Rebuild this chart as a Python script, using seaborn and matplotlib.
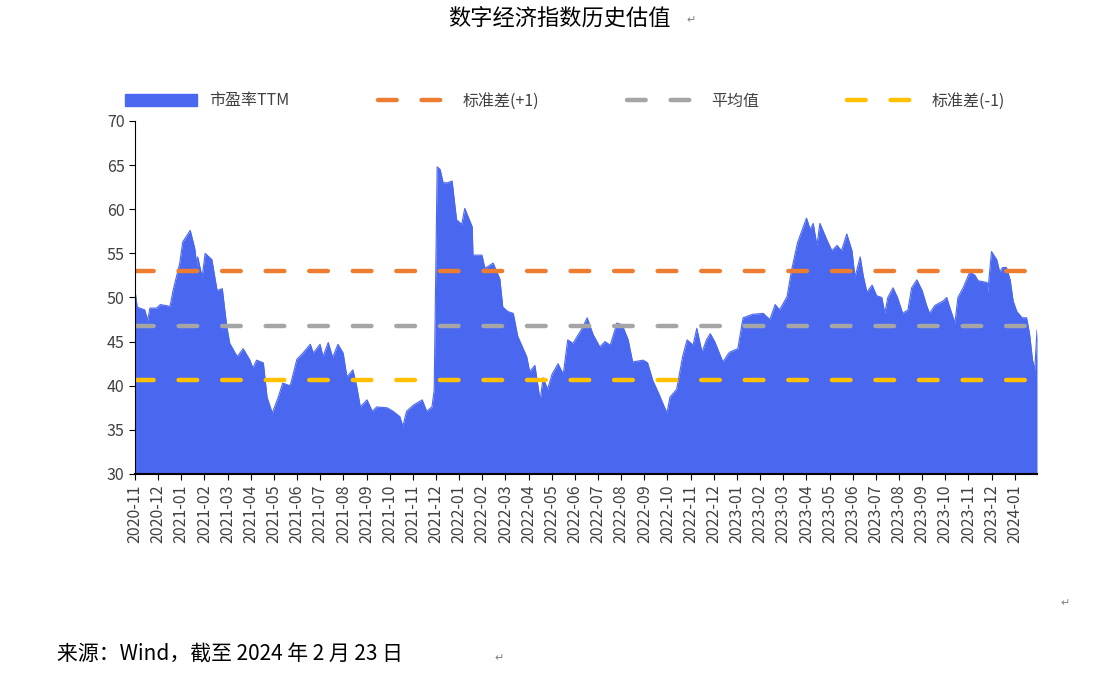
import numpy as np
import pandas as pd
import matplotlib
matplotlib.use("Agg")
import matplotlib.pyplot as plt
import seaborn as sns
from matplotlib.patches import Patch
from matplotlib.lines import Line2D

plt.rcParams["font.family"] = ["Noto Sans CJK SC", "DejaVu Sans"]

day_offset = [0,3,13,17,20,29,34,47,51,60,64,74,80,83,84,90,94,103,110,117,123,127,137,145,154,158,163,172,177,184,192,198,208,217,225,235,239,248,252,259,265,272,279,284,292,297,302,311,318,324,338,346,355,359,364,373,385,391,398,401,405,409,413,419,425,431,438,442,452,453,465,469,480,489,493,500,507,513,525,529,536,543,547,553,559,567,574,580,587,600,606,614,623,630,637,646,653,661,667,681,687,694,701,713,717,726,734,740,748,753,760,766,771,777,788,795,797,808,815,828,842,851,858,864,874,880,888,900,905,909,914,918,927,934,941,947,954,961,965,972,976,981,988,994,1001,1005,1009,1016,1022,1029,1036,1041,1048,1055,1061,1065,1072,1083,1088,1092,1099,1103,1110,1119,1126,1130,1142,1143,1148,1155,1159,1163,1168,1173,1177,1182,1189,1195,1199,1203,1206,1209]
pe_ttm = [50.8,48.9,48.6,47.4,48.8,48.8,49.2,49.0,50.8,53.9,56.3,57.6,55.6,53.5,54.6,52.3,55.0,54.3,50.8,51.0,46.7,44.8,43.3,44.2,42.9,42.0,42.9,42.6,38.7,36.9,38.7,40.3,40.0,43.0,43.7,44.7,43.7,44.7,43.3,44.9,43.2,44.7,43.7,41.0,41.8,40.0,37.6,38.4,37.1,37.6,37.5,37.1,36.5,35.4,37.1,37.8,38.4,37.1,37.6,39.5,64.8,64.5,63.0,63.0,63.2,58.8,58.3,60.1,58.0,54.8,54.8,53.3,53.9,52.1,48.9,48.4,48.2,45.6,43.3,41.6,42.3,38.3,40.9,39.6,41.3,42.5,41.3,45.2,44.8,46.6,47.7,45.8,44.4,45.0,44.6,47.1,46.9,45.2,42.7,42.9,42.6,40.6,39.3,36.9,38.7,39.6,43.3,45.2,44.6,46.5,43.8,45.2,45.9,45.0,42.7,43.6,43.8,44.2,47.7,48.1,48.2,47.5,49.2,48.6,50.1,53.1,56.2,59.0,57.7,58.4,55.9,58.4,56.6,55.3,55.9,55.3,57.2,55.3,52.3,54.6,52.5,50.6,51.4,50.2,50.0,48.2,50.0,51.1,50.0,48.2,48.6,51.1,52.0,50.8,49.1,48.2,49.1,49.6,50.0,48.9,47.1,50.0,51.1,52.9,52.5,51.9,51.7,50.6,55.2,54.3,52.9,53.4,53.4,52.0,49.6,48.4,47.7,47.7,45.9,42.9,41.8,46.3]

std_plus = 53.0
mean_val = 46.75
std_minus = 40.65

month_labels = ["2020-11","2020-12"] + [f"2021-{m:02d}" for m in range(1,13)] + \
    [f"2022-{m:02d}" for m in range(1,13)] + [f"2023-{m:02d}" for m in range(1,13)] + ["2024-01"]

df = pd.DataFrame({"day": day_offset, "pe": pe_ttm})

fig = plt.figure(figsize=(11.19, 6.75), dpi=100)
ax = fig.add_axes([135/1119, 1-474/675, (1037-135)/1119, (474-121)/675])

blue = "#4A67F0"
ax.fill_between(df["day"], 30, df["pe"], color=blue, lw=0)
sns.lineplot(data=df, x="day", y="pe", ax=ax, color=blue, lw=0.8)

xmax = max(day_offset)
dash = dict(lw=3.2, dashes=(4.2, 5.6), dash_capstyle="round")
ax.plot([0, xmax], [std_plus]*2, color="#ED7D31", **dash)
ax.plot([0, xmax], [mean_val]*2, color="#A5A5A5", **dash)
ax.plot([0, xmax], [std_minus]*2, color="#FFC000", **dash)

ax.set_xlim(0, xmax)
ax.set_ylim(30, 70)
ax.set_yticks(range(30, 71, 5))
step = 880 * 1.34 / 38
ax.set_xticks([i*step for i in range(len(month_labels))])
ax.set_xticklabels(month_labels, rotation=90, fontsize=11.5, color="#404040")
ax.tick_params(axis="y", labelsize=11.5, labelcolor="#404040", length=4)
ax.tick_params(axis="x", length=4)
ax.set_xlabel(""); ax.set_ylabel("")
for s in ["top", "right"]:
    ax.spines[s].set_visible(False)
for s in ["left", "bottom"]:
    ax.spines[s].set_color("black")
ax.spines["bottom"].set_linewidth(1.5)

handles = [Patch(color=blue, label="市盈率TTM"),
           Line2D([], [], color="#ED7D31", label="标准差(+1)", **dash),
           Line2D([], [], color="#A5A5A5", label="平均值", **dash),
           Line2D([], [], color="#FFC000", label="标准差(-1)", **dash)]
fig.legend(handles=handles, loc="center", bbox_to_anchor=(0.505, 1-101/675), ncol=4,
           frameon=False, fontsize=11.5, handlelength=4.5, columnspacing=5.5,
           labelcolor="#404040")

fig.text(0.5, 1-18/675, "数字经济指数历史估值", ha="center", va="center", fontsize=16)
fig.text(686/1119, 1-20/675, "↵", ha="left", va="center", fontsize=8, color="#808080", family="DejaVu Sans")
fig.text(57/1119, 1-655/675, "来源：Wind，截至 2024 年 2 月 23 日", ha="left", va="center", fontsize=15)
fig.text(494/1119, 1-658/675, "↵", ha="left", va="center", fontsize=8, color="#808080", family="DejaVu Sans")
fig.text(1060/1119, 1-603/675, "↵", ha="left", va="center", fontsize=8, color="#808080", family="DejaVu Sans")

fig.savefig("out.png", dpi=100)
